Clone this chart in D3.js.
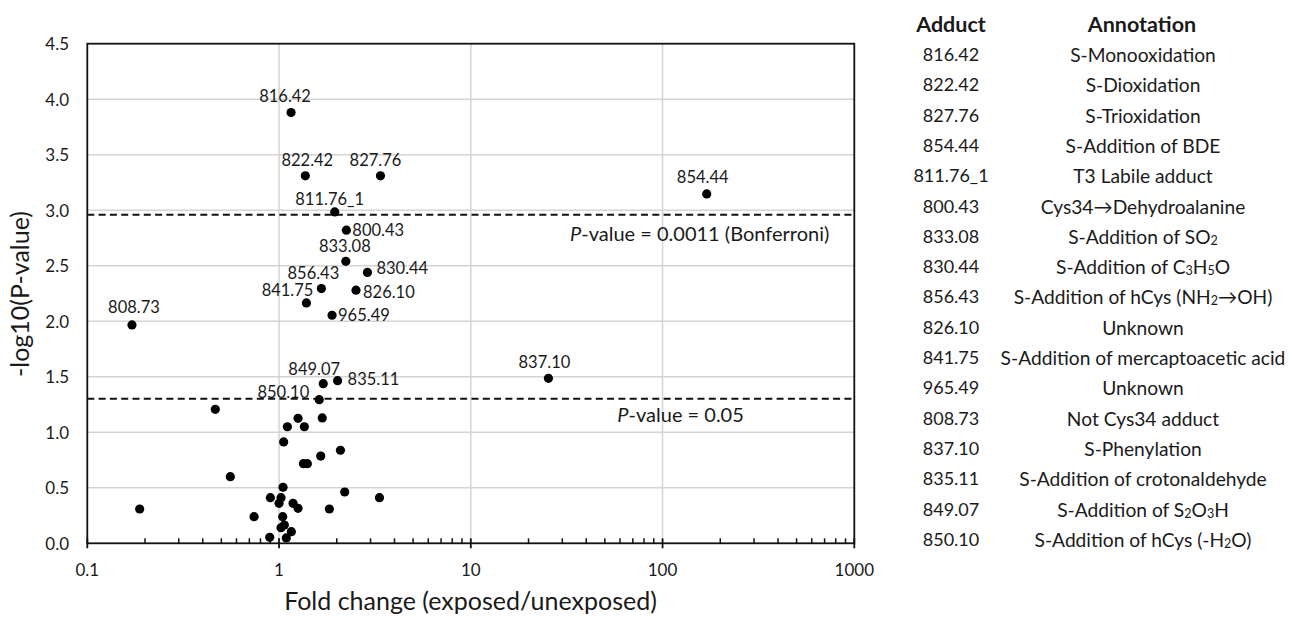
<!DOCTYPE html>
<html><head><meta charset="utf-8">
<script src="https://cdn.jsdelivr.net/npm/d3@7"></script>
<style>
body{margin:0;background:#fff}
svg{display:block}
text{font-family:Lato,"Noto Sans",sans-serif;fill:#1a1a1a}
</style>
</head><body>
<svg id="chart" width="1290" height="617"></svg>
<script>
// ---------- DATA ----------
const pointNames = ["816.42","822.42","827.76","854.44","811.76_1","800.43","833.08","830.44","856.43","826.10","841.75","965.49","808.73","837.10","835.11","849.07","850.10",
  "","","","","","","","","","","","","","","","","","","","","","","","","","","",""];
const foldChange = [1.155,1.371,3.38,170,1.952,2.244,2.23,2.89,1.663,2.52,1.389,1.89,0.171,25.4,2.02,1.70,1.62,
  0.465,1.256,1.68,1.105,1.355,1.057,2.09,1.65,1.34,1.405,0.557,1.049,0.901,1.024,1.0,1.183,1.256,2.20,3.34,1.83,0.1876,0.741,1.045,1.024,1.066,1.159,0.894,1.091];
const negLog10P = [3.88,3.31,3.31,3.147,2.985,2.82,2.54,2.44,2.294,2.28,2.165,2.054,1.967,1.486,1.465,1.438,1.294,
  1.207,1.126,1.129,1.05,1.05,0.913,0.838,0.786,0.717,0.717,0.60,0.505,0.411,0.411,0.36,0.36,0.315,0.462,0.411,0.309,0.309,0.24,0.24,0.14,0.165,0.105,0.054,0.048];

const xTickValues = [0.1,1,10,100,1000];
const xTickLabels = ["0.1","1","10","100","1000"];
const yTickValues = [0,0.5,1,1.5,2,2.5,3,3.5,4,4.5];
const yTickLabels = ["0.0","0.5","1.0","1.5","2.0","2.5","3.0","3.5","4.0","4.5"];

const thresholdP = [0.0011, 0.05];
const thresholdText = ["-value = 0.0011 (Bonferroni)", "-value = 0.05"];

const tableAdducts = ["816.42","822.42","827.76","854.44","811.76_1","800.43","833.08","830.44","856.43","826.10","841.75","965.49","808.73","837.10","835.11","849.07","850.10"];
const tableAnnotations = ["S-Monooxidation","S-Dioxidation","S-Trioxidation","S-Addition of BDE","T3 Labile adduct","Cys34\u2192Dehydroalanine","S-Addition of SO_2","S-Addition of C_3H_5O","S-Addition of hCys (NH_2\u2192OH)","Unknown","S-Addition of mercaptoacetic acid","Unknown","Not Cys34 adduct","S-Phenylation","S-Addition of crotonaldehyde","S-Addition of S_2O_3H","S-Addition of hCys (-H_2O)"];

// ---------- LAYOUT (label placement, px) ----------
const labelLayout = {
  "816.42":[-6,-17,"middle"], "822.42":[2,-16,"middle"], "827.76":[-5,-16,"middle"],
  "854.44":[-4,-17,"middle"], "811.76_1":[-5,-13,"middle"], "800.43":[6,0,"start"],
  "833.08":[-1,-15,"middle"], "830.44":[9,-4,"start"], "856.43":[-8,-16,"middle"],
  "826.10":[7,2,"start"], "841.75":[7,-13,"end"], "965.49":[6,0,"start"],
  "808.73":[2,-18,"middle"], "837.10":[-4,-16,"middle"], "835.11":[10,-2,"start"],
  "849.07":[-9,-15,"middle"], "850.10":[-10,-8,"end"]
};

const svg = d3.select("#chart");
const L = 87.3, R = 854.3, T = 43.7, B = 543.3;

const x = d3.scaleLog().domain([0.1,1000]).range([L,R]);
const y = d3.scaleLinear().domain([0,4.5]).range([B,T]);

// grid
const grid = svg.append("g");
grid.selectAll("line.h").data(yTickValues.filter(v=>v>0 && v<4.5)).join("line")
  .attr("x1",L).attr("x2",R).attr("y1",d=>y(d)).attr("y2",d=>y(d))
  .attr("stroke","#d4d4d4").attr("stroke-width",1.5);
grid.selectAll("line.v").data(xTickValues.filter(v=>v>0.1 && v<1000)).join("line")
  .attr("x1",d=>x(d)).attr("x2",d=>x(d)).attr("y1",T).attr("y2",B)
  .attr("stroke","#d4d4d4").attr("stroke-width",1.5);

// frame
svg.append("rect").attr("x",L).attr("y",T).attr("width",R-L).attr("height",B-T)
  .attr("fill","none").attr("stroke","#111").attr("stroke-width",1.8);

// x axis ticks (major crossing, minor inside)
const minor = [];
[0.1,1,10,100].forEach(d=>{for(let k=2;k<=9;k++) minor.push(d*k);});
svg.append("g").selectAll("line").data(minor).join("line")
  .attr("x1",d=>x(d)).attr("x2",d=>x(d)).attr("y1",B-5).attr("y2",B)
  .attr("stroke","#111").attr("stroke-width",1.5);
svg.append("g").selectAll("line").data(xTickValues).join("line")
  .attr("x1",d=>x(d)).attr("x2",d=>x(d)).attr("y1",B-5).attr("y2",B+5)
  .attr("stroke","#111").attr("stroke-width",1.8);

svg.append("g").selectAll("text").data(xTickValues).join("text")
  .attr("x",d=>x(d)).attr("y",569).attr("text-anchor","middle").attr("dominant-baseline","central")
  .attr("font-size",17).text((d,i)=>xTickLabels[i]);
svg.append("g").selectAll("text").data(yTickValues).join("text")
  .attr("x",69).attr("y",d=>y(d)).attr("text-anchor","end").attr("dominant-baseline","central")
  .attr("font-size",17).text((d,i)=>yTickLabels[i]);

// axis titles
svg.append("text").attr("x",470.5).attr("y",610).attr("text-anchor","middle")
  .attr("font-size",25).text("Fold change (exposed/unexposed)");
svg.append("text").attr("transform","translate(29,294) rotate(-90)").attr("text-anchor","middle")
  .attr("font-size",25).text("-log10(P-value)");

// threshold lines
const thrY = thresholdP.map(p=>-Math.log10(p));
svg.append("g").selectAll("line").data(thrY).join("line")
  .attr("x1",L).attr("x2",R).attr("y1",d=>y(d)).attr("y2",d=>y(d))
  .attr("stroke","#111").attr("stroke-width",2).attr("stroke-dasharray","7,4.3");
const thrLabelPos = [[570,233.3],[617.3,414.3]];
thrY.forEach((v,i)=>{
  const t = svg.append("text").attr("x",thrLabelPos[i][0]).attr("y",thrLabelPos[i][1])
    .attr("dominant-baseline","central").attr("font-size",20);
  t.append("tspan").attr("font-style","italic").text("P");
  t.append("tspan").text(thresholdText[i]);
});

// points
const pts = pointNames.map((n,i)=>({name:n, fc:foldChange[i], v:negLog10P[i]}));
svg.append("g").selectAll("circle").data(pts).join("circle")
  .attr("cx",d=>x(d.fc)).attr("cy",d=>y(d.v)).attr("r",4.6).attr("fill","#000");

svg.append("g").selectAll("text").data(pts.filter(d=>d.name)).join("text")
  .attr("x",d=>x(d.fc)+labelLayout[d.name][0])
  .attr("y",d=>y(d.v)+labelLayout[d.name][1])
  .attr("text-anchor",d=>labelLayout[d.name][2])
  .attr("dominant-baseline","central").attr("font-size",16.5)
  .text(d=>d.name);

// table
const tbl = svg.append("g");
tbl.append("text").attr("x",951).attr("y",24).attr("text-anchor","middle").attr("dominant-baseline","central")
  .attr("font-size",21.5).attr("font-weight","bold").text("Adduct");
tbl.append("text").attr("x",1142).attr("y",24).attr("text-anchor","middle").attr("dominant-baseline","central")
  .attr("font-size",21.5).attr("font-weight","bold").text("Annotation");
const rowY = i => 54 + 30.3*i;
tbl.selectAll("text.ad").data(tableAdducts).join("text").attr("class","ad")
  .attr("x",951).attr("y",(d,i)=>rowY(i)).attr("text-anchor","middle").attr("dominant-baseline","central")
  .attr("font-size",18).text(d=>d);
tableAnnotations.forEach((s,i)=>{
  const t = tbl.append("text").attr("x",1143).attr("y",rowY(i)).attr("text-anchor","middle")
    .attr("dominant-baseline","central").attr("font-size",19.2);
  const parts = s.split(/(_\d)/).filter(p=>p.length);
  let pending = 0;
  parts.forEach(p=>{
    if(/^_\d$/.test(p)){
      t.append("tspan").attr("font-size",12.5).attr("dy",4 + pending).text(p[1]);
      pending = -4;
    } else {
      const ts = t.append("tspan").text(p);
      if(pending) ts.attr("dy",pending);
      pending = 0;
    }
  });
});
</script>
</body></html>
